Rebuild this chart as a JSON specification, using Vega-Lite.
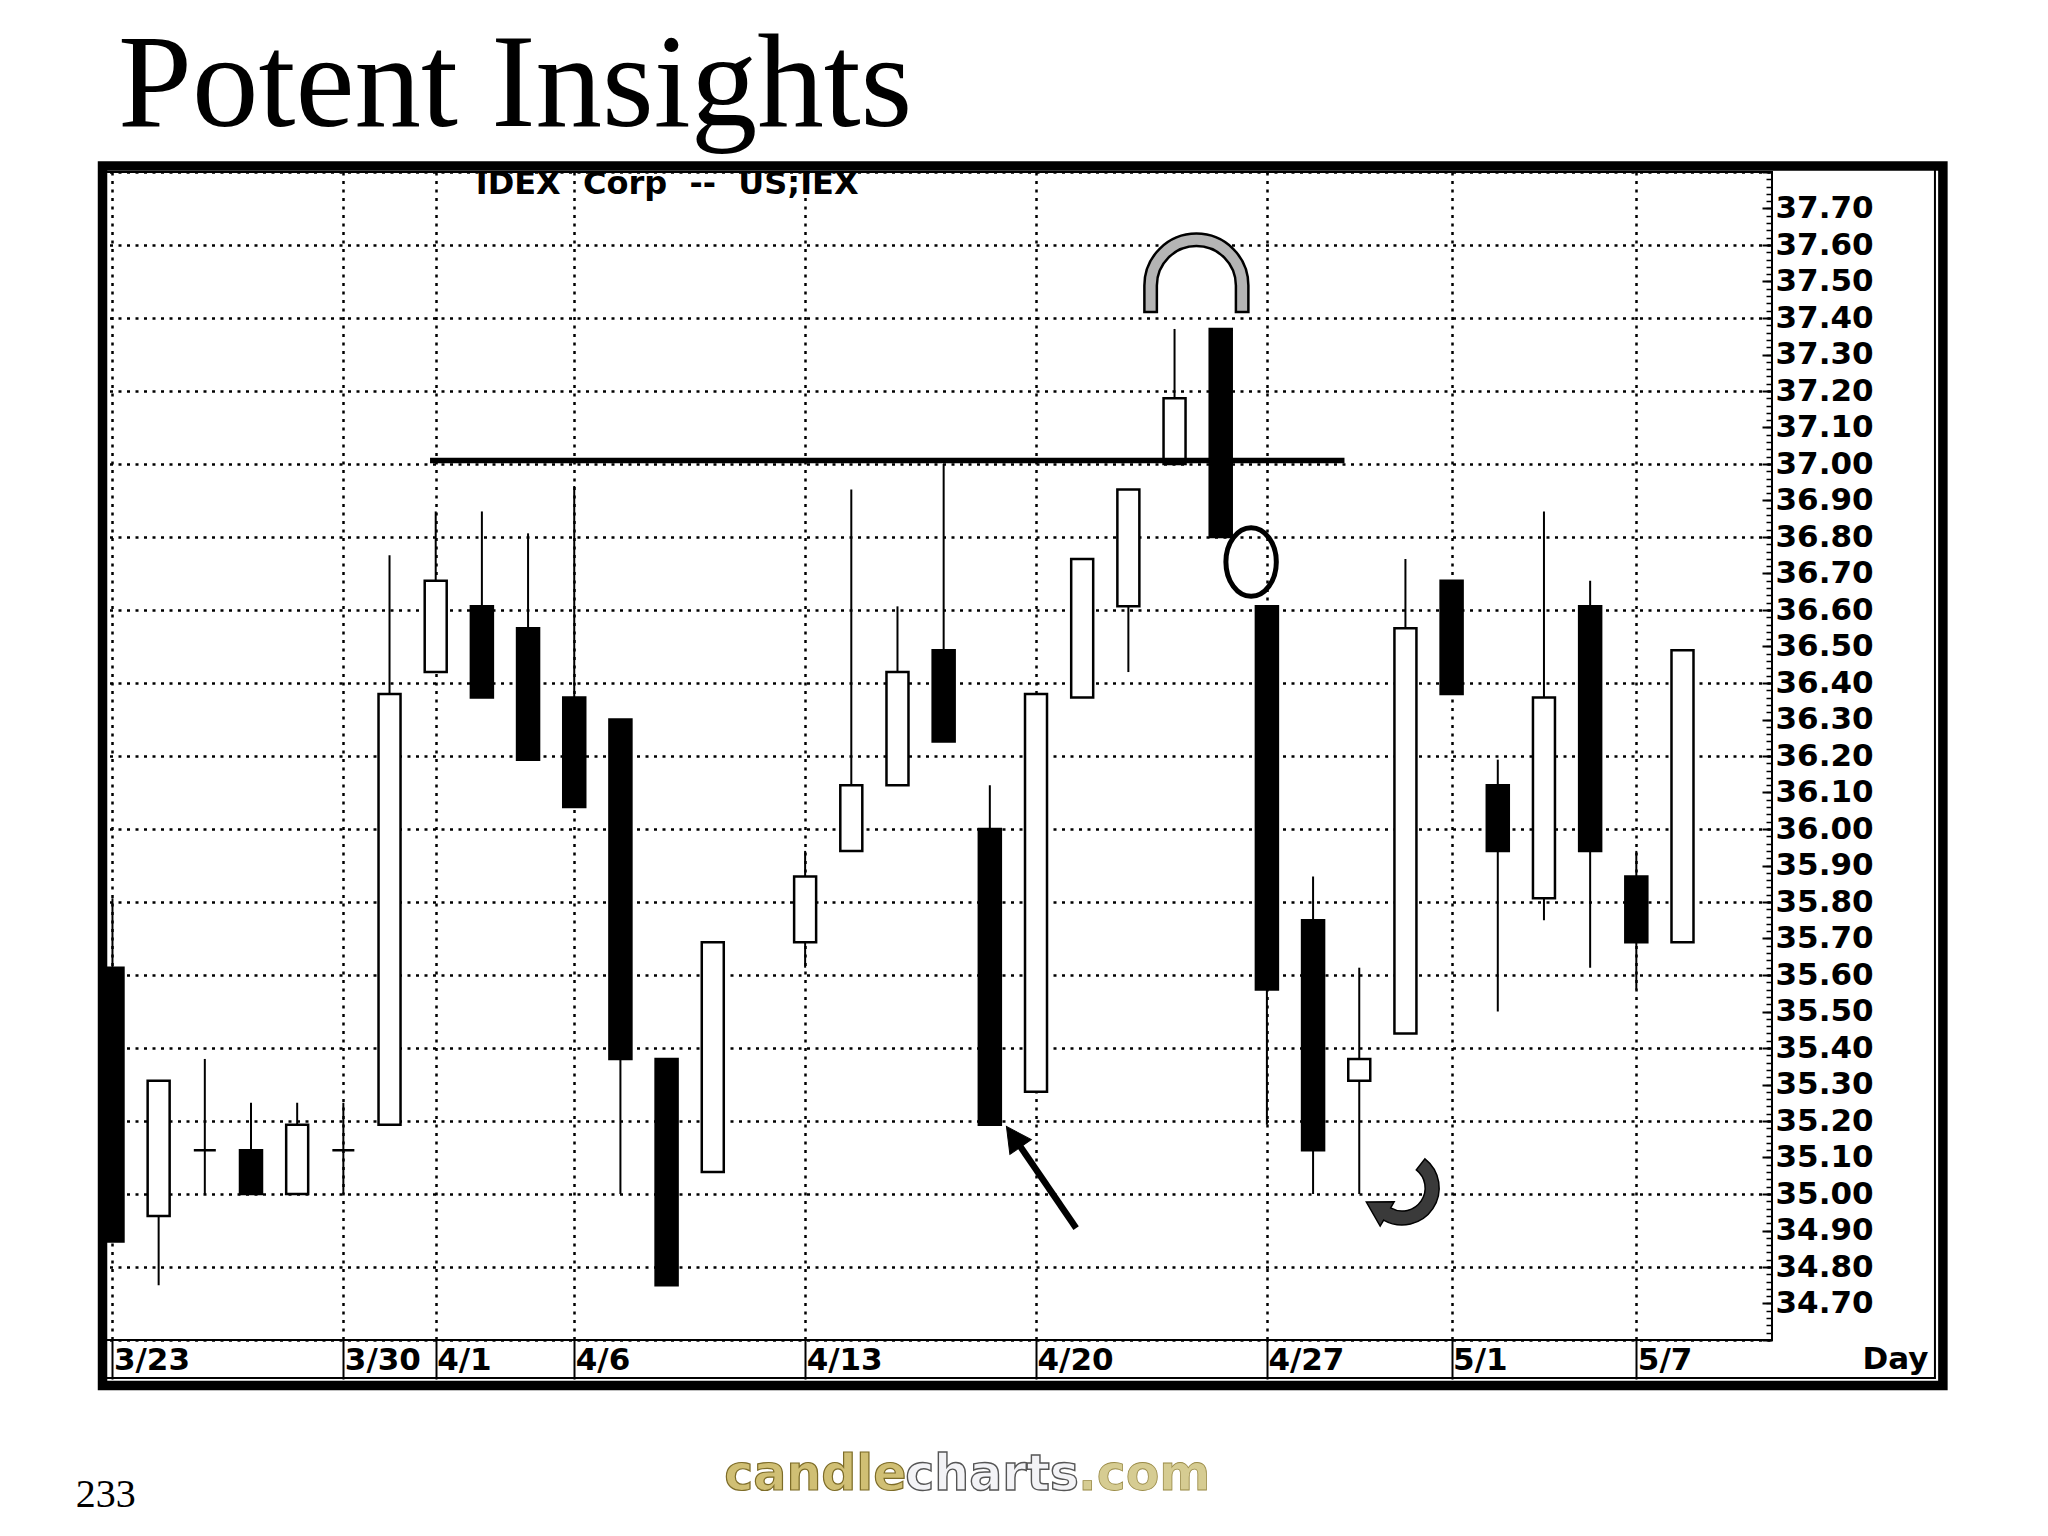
{
  "$schema": "https://vega.github.io/schema/vega-lite/v6.json",
  "width": 1671,
  "height": 1168,
  "autosize": {"type": "none"},
  "padding": {"left": 101, "top": 172, "right": 276, "bottom": 196},
  "background": "white",
  "title": {"text": "Potent Insights", "anchor": "start", "frame": "group", "font": "Liberation Serif", "fontSize": 133, "fontWeight": "normal", "color": "black", "baseline": "alphabetic", "offset": -103, "dx": 17},
  "config": {"view": {"stroke": "black", "strokeWidth": 2}, "font": "DejaVu Sans"},
  "datasets": {
    "candles": [
      {"d": "3/23", "i": 0, "open": 35.62, "high": 35.81, "low": 34.87, "close": 34.87},
      {"d": "3/24", "i": 1, "open": 34.94, "high": 35.31, "low": 34.75, "close": 35.31},
      {"d": "3/25", "i": 2, "open": 35.12, "high": 35.37, "low": 35.00, "close": 35.12},
      {"d": "3/26", "i": 3, "open": 35.12, "high": 35.25, "low": 35.00, "close": 35.00},
      {"d": "3/27", "i": 4, "open": 35.00, "high": 35.25, "low": 35.00, "close": 35.19},
      {"d": "3/30", "i": 5, "open": 35.12, "high": 35.25, "low": 35.00, "close": 35.12},
      {"d": "3/31", "i": 6, "open": 35.19, "high": 36.75, "low": 35.19, "close": 36.37},
      {"d": "4/1", "i": 7, "open": 36.43, "high": 36.87, "low": 36.43, "close": 36.68},
      {"d": "4/2", "i": 8, "open": 36.61, "high": 36.87, "low": 36.36, "close": 36.36},
      {"d": "4/3", "i": 9, "open": 36.55, "high": 36.81, "low": 36.19, "close": 36.19},
      {"d": "4/6", "i": 10, "open": 36.36, "high": 36.94, "low": 36.06, "close": 36.06},
      {"d": "4/7", "i": 11, "open": 36.30, "high": 36.30, "low": 35.00, "close": 35.37},
      {"d": "4/8", "i": 12, "open": 35.37, "high": 35.37, "low": 34.75, "close": 34.75},
      {"d": "4/9", "i": 13, "open": 35.06, "high": 35.69, "low": 35.06, "close": 35.69},
      {"d": "4/13", "i": 15, "open": 35.69, "high": 35.94, "low": 35.62, "close": 35.87},
      {"d": "4/14", "i": 16, "open": 35.94, "high": 36.93, "low": 35.94, "close": 36.12},
      {"d": "4/15", "i": 17, "open": 36.12, "high": 36.61, "low": 36.12, "close": 36.43},
      {"d": "4/16", "i": 18, "open": 36.49, "high": 37.00, "low": 36.24, "close": 36.24},
      {"d": "4/17", "i": 19, "open": 36.00, "high": 36.12, "low": 35.19, "close": 35.19},
      {"d": "4/20", "i": 20, "open": 35.28, "high": 36.37, "low": 35.28, "close": 36.37},
      {"d": "4/21", "i": 21, "open": 36.36, "high": 36.74, "low": 36.36, "close": 36.74},
      {"d": "4/22", "i": 22, "open": 36.61, "high": 36.93, "low": 36.43, "close": 36.93},
      {"d": "4/23", "i": 23, "open": 37.00, "high": 37.37, "low": 37.00, "close": 37.18},
      {"d": "4/24", "i": 24, "open": 37.37, "high": 37.37, "low": 36.80, "close": 36.80},
      {"d": "4/27", "i": 25, "open": 36.61, "high": 36.61, "low": 35.19, "close": 35.56},
      {"d": "4/28", "i": 26, "open": 35.75, "high": 35.87, "low": 35.00, "close": 35.12},
      {"d": "4/29", "i": 27, "open": 35.31, "high": 35.62, "low": 35.00, "close": 35.37},
      {"d": "4/30", "i": 28, "open": 35.44, "high": 36.74, "low": 35.44, "close": 36.55},
      {"d": "5/1", "i": 29, "open": 36.68, "high": 36.68, "low": 36.37, "close": 36.37},
      {"d": "5/4", "i": 30, "open": 36.12, "high": 36.19, "low": 35.50, "close": 35.94},
      {"d": "5/5", "i": 31, "open": 35.81, "high": 36.87, "low": 35.75, "close": 36.36},
      {"d": "5/6", "i": 32, "open": 36.61, "high": 36.68, "low": 35.62, "close": 35.94},
      {"d": "5/7", "i": 33, "open": 35.87, "high": 35.94, "low": 35.56, "close": 35.69},
      {"d": "5/8", "i": 34, "open": 35.69, "high": 36.49, "low": 35.69, "close": 36.49}
    ]
  },
  "data": {"name": "candles"},
  "resolve": {"axis": {"x": "independent", "y": "independent"}},
  "layer": [
    {
      "mark": {"type": "rule", "color": "black", "strokeWidth": 2},
      "encoding": {
        "x": {"field": "i", "type": "quantitative", "scale": {"domain": [-0.14, 35.83], "nice": false, "zero": false},
          "axis": {
            "orient": "bottom",
            "values": [0, 5, 7, 10, 15, 20, 25, 29, 33],
            "labelExpr": "datum.value == 0 ? '3/23' : datum.value == 5 ? '3/30' : datum.value == 7 ? '4/1' : datum.value == 10 ? '4/6' : datum.value == 15 ? '4/13' : datum.value == 20 ? '4/20' : datum.value == 25 ? '4/27' : datum.value == 29 ? '5/1' : '5/7'",
            "grid": true, "gridDash": [3, 5.5], "gridColor": "black", "gridWidth": 2.5, "gridOpacity": 1,
            "domain": false,
            "ticks": true, "tickSize": 39, "tickWidth": 2, "tickColor": "black", "tickOpacity": 1,
            "labelAlign": "left", "labelBaseline": "alphabetic", "labelPadding": -10, "labelOffset": 1,
            "labelFlush": false, "labelOverlap": false, "labelBound": false,
            "labelFont": "DejaVu Sans", "labelFontWeight": "bold", "labelFontSize": 31, "labelColor": "black",
            "title": "Day", "titleX": 1827, "titleY": 28.5, "titleAlign": "right", "titleBaseline": "alphabetic", "titleAnchor": "end",
            "titleFont": "DejaVu Sans", "titleFontWeight": "bold", "titleFontSize": 31, "titleColor": "black", "titlePadding": 0
          }},
        "y": {"field": "low", "type": "quantitative", "scale": {"domain": [34.6, 37.8], "nice": false, "zero": false},
          "axis": {
            "orient": "right", "tickCount": 32,
            "labelExpr": "datum.value < 34.65 || datum.value > 37.75 ? '' : format(datum.value, '.2f')",
            "ticks": false, "domain": false, "grid": false,
            "labelPadding": 3, "labelAlign": "left", "labelBaseline": "middle",
            "labelOverlap": false, "labelBound": false, "labelFlush": false,
            "labelFont": "DejaVu Sans", "labelFontWeight": "bold", "labelFontSize": 31, "labelColor": "black",
            "title": null
          }},
        "y2": {"field": "high"}
      }
    },
    {
      "mark": {"type": "bar", "width": 22, "stroke": "black", "strokeWidth": 2.5},
      "encoding": {
        "x": {"field": "i", "type": "quantitative", "scale": {"domain": [-0.14, 35.83], "nice": false, "zero": false}, "axis": null},
        "y": {"field": "open", "type": "quantitative", "scale": {"domain": [34.6, 37.8], "nice": false, "zero": false},
          "axis": {"orient": "left", "tickCount": 16, "grid": true, "gridDash": [3, 5.5], "gridColor": "black", "gridWidth": 2.5, "gridOpacity": 1,
            "ticks": false, "labels": false, "domain": false, "title": null}},
        "y2": {"field": "close"},
        "fill": {"condition": {"test": "datum.close < datum.open", "value": "black"}, "value": "white"}
      }
    },
    {
      "data": {"values": [{}]},
      "mark": {"type": "rule", "color": "black", "strokeWidth": 5.5},
      "encoding": {
        "x": {"datum": 6.877, "type": "quantitative", "scale": {"domain": [-0.14, 35.83], "nice": false, "zero": false}, "axis": null},
        "x2": {"datum": 26.68},
        "y": {"datum": 37.0093, "type": "quantitative", "scale": {"domain": [34.6, 37.8], "nice": false, "zero": false},
          "axis": {"orient": "left", "offset": -1671, "tickCount": 32, "ticks": true, "tickSize": 10, "tickWidth": 2, "tickColor": "black",
            "labels": false, "domain": false, "grid": false, "title": null}}
      }
    },
    {
      "data": {"values": [{}]},
      "mark": {"type": "rule", "color": "black", "strokeWidth": 6.5},
      "encoding": {
        "x": {"datum": 20.869, "type": "quantitative", "scale": {"domain": [-0.14, 35.83], "nice": false, "zero": false}, "axis": null},
        "x2": {"datum": 19.513},
        "y": {"datum": 34.9063, "type": "quantitative", "scale": {"domain": [34.6, 37.8], "nice": false, "zero": false},
          "axis": {"orient": "left", "offset": -1671, "tickCount": 160, "ticks": true, "tickSize": 6, "tickWidth": 1.5, "tickColor": "black",
            "labels": false, "domain": false, "grid": false, "title": null}},
        "y2": {"datum": 35.157}
      }
    },
    {
      "data": {"values": [{}]},
      "mark": {"type": "point", "shape": "M0,-1L1.04,1L-1.04,1Z", "size": 625, "angle": -34.5, "filled": true, "fill": "black", "stroke": "black", "strokeWidth": 1, "opacity": 1},
      "encoding": {
        "x": {"datum": 19.513, "type": "quantitative", "scale": {"domain": [-0.14, 35.83], "nice": false, "zero": false}, "axis": null},
        "y": {"datum": 35.157, "type": "quantitative", "scale": {"domain": [34.6, 37.8], "nice": false, "zero": false}, "axis": null}
      }
    },
    {
      "data": {"values": [{}]},
      "mark": {"type": "point", "shape": "M-1,0.75L-1,0.242A1,1 0 0,1 1,0.242L1,0.75L0.76,0.75L0.76,0.242A0.76,0.76 0 0,0 -0.76,0.242L-0.76,0.75Z", "size": 10816, "filled": true, "fill": "#b4b4b4", "stroke": "black", "strokeWidth": 2.5, "opacity": 1},
      "encoding": {
        "x": {"datum": 23.473, "type": "quantitative", "scale": {"domain": [-0.14, 35.83], "nice": false, "zero": false}, "axis": null},
        "y": {"datum": 37.5233, "type": "quantitative", "scale": {"domain": [34.6, 37.8], "nice": false, "zero": false}, "axis": null}
      }
    },
    {
      "data": {"values": [{}]},
      "mark": {"type": "point", "shape": "M0,-1A0.737,1 0 1,1 0,1A0.737,1 0 1,1 0,-1Z", "size": 4679, "filled": false, "color": "black", "strokeWidth": 5, "opacity": 1},
      "encoding": {
        "x": {"datum": 24.658, "type": "quantitative", "scale": {"domain": [-0.14, 35.83], "nice": false, "zero": false}, "axis": null},
        "y": {"datum": 36.7315, "type": "quantitative", "scale": {"domain": [34.6, 37.8], "nice": false, "zero": false}, "axis": null}
      }
    },
    {
      "data": {"values": [{}]},
      "mark": {"type": "point", "shape": "M0.5695,-0.729A0.925,0.925 0 0,1 -0.4625,0.801L-0.55,0.9526L-0.895,0.35L-0.2,0.3464L-0.2875,0.498A0.575,0.575 0 0,0 0.354,-0.453Z", "size": 6400, "filled": true, "fill": "#3a3a3a", "stroke": "black", "strokeWidth": 1.5, "opacity": 1},
      "encoding": {
        "x": {"datum": 27.929, "type": "quantitative", "scale": {"domain": [-0.14, 35.83], "nice": false, "zero": false}, "axis": null},
        "y": {"datum": 35.0164, "type": "quantitative", "scale": {"domain": [34.6, 37.8], "nice": false, "zero": false}, "axis": null}
      }
    },
    {
      "data": {"values": [{}]},
      "mark": {"type": "text", "text": "IDEX\u00a0\u00a0Corp\u00a0\u00a0--\u00a0\u00a0US;IEX", "font": "DejaVu Sans", "fontWeight": "bold", "fontSize": 32, "color": "black", "align": "left", "baseline": "alphabetic"},
      "encoding": {
        "x": {"datum": 7.867, "type": "quantitative", "scale": {"domain": [-0.14, 35.83], "nice": false, "zero": false}, "axis": null},
        "y": {"datum": 37.7405, "type": "quantitative", "scale": {"domain": [34.6, 37.8], "nice": false, "zero": false}, "axis": null}
      }
    },
    {
      "data": {"values": [{}]},
      "mark": {"type": "rect", "filled": false, "color": "black", "strokeWidth": 9.5},
      "encoding": {
        "x": {"datum": -0.2153, "type": "quantitative", "scale": {"domain": [-0.14, 35.83], "nice": false, "zero": false}, "axis": null},
        "x2": {"datum": 39.639},
        "y": {"datum": 37.8164, "type": "quantitative", "scale": {"domain": [34.6, 37.8], "nice": false, "zero": false}, "axis": null},
        "y2": {"datum": 34.4753}
      }
    },
    {
      "data": {"values": [{}]},
      "mark": {"type": "rect", "filled": false, "color": "black", "strokeWidth": 2},
      "encoding": {
        "x": {"datum": -0.2153, "type": "quantitative", "scale": {"domain": [-0.14, 35.83], "nice": false, "zero": false}, "axis": null},
        "x2": {"datum": 39.467},
        "y": {"datum": 37.8164, "type": "quantitative", "scale": {"domain": [34.6, 37.8], "nice": false, "zero": false}, "axis": null},
        "y2": {"datum": 34.4959}
      }
    },
    {
      "data": {"values": [{}]},
      "mark": {"type": "text", "text": "233", "font": "Liberation Serif", "fontSize": 40, "color": "black", "align": "left", "baseline": "alphabetic"},
      "encoding": {
        "x": {"datum": -0.797, "type": "quantitative", "scale": {"domain": [-0.14, 35.83], "nice": false, "zero": false}, "axis": null},
        "y": {"datum": 34.1425, "type": "quantitative", "scale": {"domain": [34.6, 37.8], "nice": false, "zero": false}, "axis": null}
      }
    },
    {
      "data": {"values": [{}]},
      "mark": {"type": "text", "text": "candle", "font": "DejaVu Sans", "fontWeight": "bold", "fontSize": 49, "fill": "#d0bf74", "stroke": "#7d6c28", "strokeWidth": 1.2, "align": "left", "baseline": "alphabetic"},
      "encoding": {
        "x": {"datum": 13.249, "type": "quantitative", "scale": {"domain": [-0.14, 35.83], "nice": false, "zero": false}, "axis": null},
        "y": {"datum": 34.189, "type": "quantitative", "scale": {"domain": [34.6, 37.8], "nice": false, "zero": false}, "axis": null}
      }
    },
    {
      "data": {"values": [{}]},
      "mark": {"type": "text", "text": "charts", "font": "DejaVu Sans", "fontWeight": "bold", "fontSize": 49, "fill": "#f3f3f6", "stroke": "#555555", "strokeWidth": 1.4, "align": "left", "baseline": "alphabetic"},
      "encoding": {
        "x": {"datum": 17.169, "type": "quantitative", "scale": {"domain": [-0.14, 35.83], "nice": false, "zero": false}, "axis": null},
        "y": {"datum": 34.189, "type": "quantitative", "scale": {"domain": [34.6, 37.8], "nice": false, "zero": false}, "axis": null}
      }
    },
    {
      "data": {"values": [{}]},
      "mark": {"type": "text", "text": ".com", "font": "DejaVu Sans", "fontWeight": "bold", "fontSize": 49, "fill": "#d6cc92", "stroke": "#9a8b48", "strokeWidth": 0.8, "align": "left", "baseline": "alphabetic"},
      "encoding": {
        "x": {"datum": 20.91, "type": "quantitative", "scale": {"domain": [-0.14, 35.83], "nice": false, "zero": false}, "axis": null},
        "y": {"datum": 34.189, "type": "quantitative", "scale": {"domain": [34.6, 37.8], "nice": false, "zero": false}, "axis": null}
      }
    }
  ]
}
